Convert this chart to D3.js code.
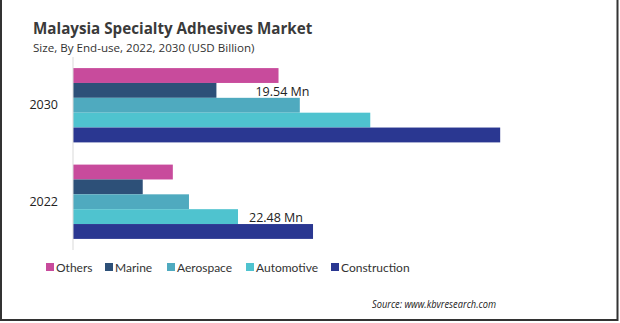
<!DOCTYPE html>
<html>
<head>
<meta charset="utf-8">
<script src="https://cdn.jsdelivr.net/npm/d3@7"></script>
<style>
    body { margin: 0; background: #fff; }
    svg { display: block; }
    text { fill: #222; }
</style>
</head>
<body>
<div id="chart"></div>
<script>
// Market size by end-use, two snapshot years
var years = ["2030", "2022"];
var series = ["Others", "Marine", "Aerospace", "Automotive", "Construction"];
var colours = ["#c84b9c", "#2d5078", "#4faabf", "#4fc3cf", "#2a3791"];
var values2030 = [28.0, 19.54, 30.9, 40.5, 58.2];
var values2022 = [13.6, 9.5, 15.8, 22.48, 32.7];
// value labels drawn beside a bar: [year, series, value, gap]
var callouts = [["2030", "Marine", 19.54, 39], ["2022", "Automotive", 22.48, 11]];

var width = 620, height = 323;

var rows = [];
years.forEach(function(y, yi)
{
    var vals = yi === 0 ? values2030 : values2022;
    series.forEach(function(s, si)
    {
        rows.push({year: y, series: s, value: vals[si]});
    });
});

var svg = d3.select("#chart").append("svg")
    .attr("width", width)
    .attr("height", height);

// frame round the panel: left, right and bottom edges
svg.append("path")
    .attr("d", "M1,0 V320 H617.5 V0")
    .attr("fill", "none")
    .attr("stroke", "#333")
    .attr("stroke-width", 2);

svg.append("text")
    .attr("x", 33)
    .attr("y", 34)
    .style("font-family", "'Open Sans', sans-serif")
    .style("font-weight", "bold")
    .style("font-size", "15.2px")
    .style("fill", "#3a3a3a")
    .text("Malaysia Specialty Adhesives Market");

svg.append("text")
    .attr("x", 33)
    .attr("y", 51.5)
    .style("font-family", "'Open Sans', sans-serif")
    .style("font-size", "11.6px")
    .style("fill", "#333")
    .text("Size, By End-use, 2022, 2030 (USD Billion)");

var x = d3.scaleLinear()
    .domain([0, 60])
    .range([73, 73 + 7.34 * 60]);

var y = d3.scaleBand()
    .domain(years)
    .range([57, 250])
    .paddingInner(0.23)
    .paddingOuter(0.115);

var ySub = d3.scaleBand()
    .domain(series)
    .range([0, y.bandwidth()]);

var colour = d3.scaleOrdinal().domain(series).range(colours);

svg.selectAll(".bar")
    .data(rows)
    .enter().append("rect")
    .attr("class", "bar")
    .attr("x", x(0))
    .attr("y", function(d) { return y(d.year) + ySub(d.series); })
    .attr("width", function(d) { return x(d.value) - x(0); })
    .attr("height", ySub.bandwidth())
    .style("fill", function(d) { return colour(d.series); });

// category axis: plain light line with year labels
var yAxis = svg.append("g")
    .attr("transform", "translate(" + x(0) + ",0)")
    .call(d3.axisLeft(y).tickSize(0).tickPadding(15));
yAxis.select(".domain")
    .attr("d", "M0,57V250")
    .attr("stroke", "#d9d9d9");
yAxis.selectAll("text")
    .style("font-family", "'Open Sans', sans-serif")
    .style("font-size", "12.5px")
    .style("fill", "#222");

svg.selectAll(".callout")
    .data(callouts)
    .enter().append("text")
    .attr("class", "callout")
    .attr("x", function(d) { return x(d[2]) + d[3]; })
    .attr("y", function(d) { return y(d[0]) + ySub(d[1]) + ySub.bandwidth() - 2; })
    .style("font-family", "'Open Sans', sans-serif")
    .style("font-size", "12.5px")
    .style("fill", "#222")
    .text(function(d) { return d[2].toFixed(2) + "  Mn"; });

// legend row under the plot
var legendX = [46, 105, 167, 246, 331];
var legend = svg.selectAll(".legend")
    .data(series)
    .enter().append("g")
    .attr("class", "legend")
    .attr("transform", function(d, i) { return "translate(" + legendX[i] + ",263)"; });
legend.append("rect")
    .attr("width", 8)
    .attr("height", 8)
    .style("fill", function(d) { return colour(d); });
legend.append("text")
    .attr("x", 10)
    .attr("y", 8.5)
    .style("font-family", "Lato, sans-serif")
    .style("font-size", "12px")
    .style("fill", "#333")
    .text(function(d) { return d; });

svg.append("text")
    .attr("x", 496)
    .attr("y", 307.5)
    .attr("text-anchor", "end")
    .attr("textLength", 124)
    .attr("lengthAdjust", "spacingAndGlyphs")
    .style("font-family", "'Open Sans', sans-serif")
    .style("font-style", "italic")
    .style("font-size", "10.5px")
    .style("fill", "#222")
    .text("Source: www.kbvresearch.com");
</script>
</body>
</html>
